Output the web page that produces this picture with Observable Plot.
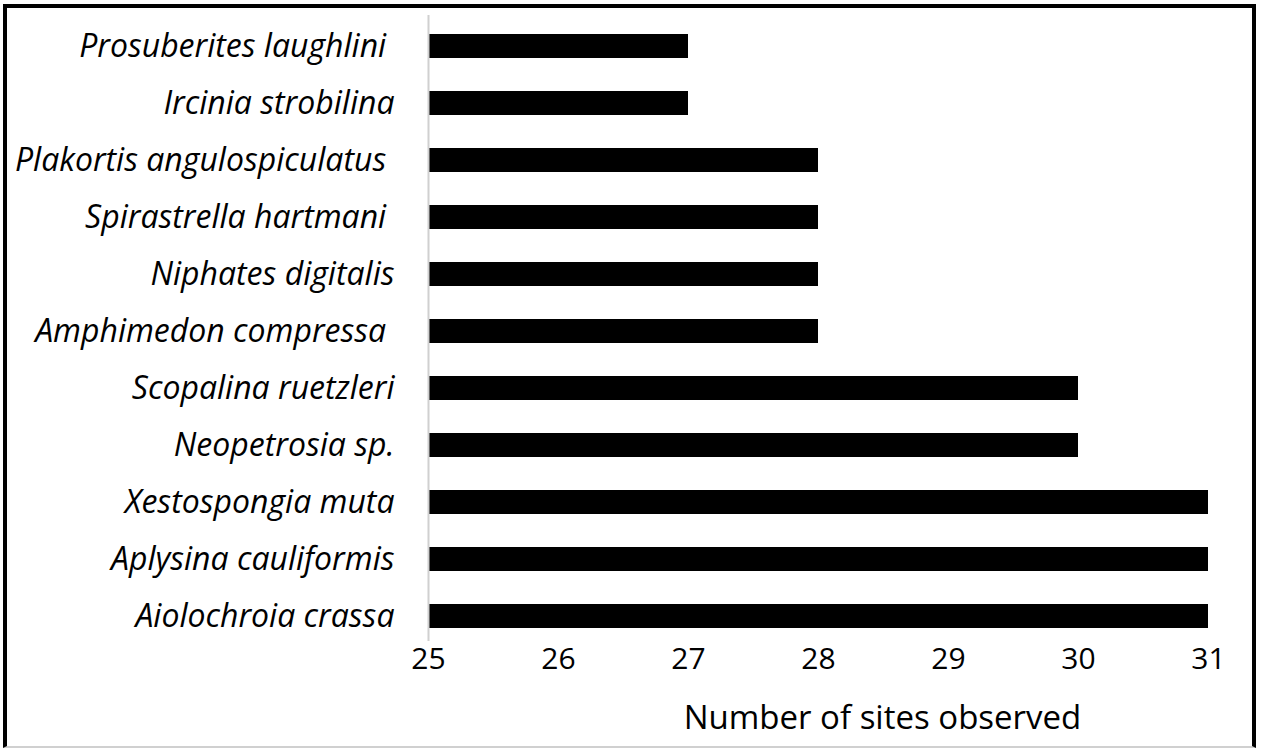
<!DOCTYPE html>
<html>
<head>
<meta charset="utf-8">
<script src="https://cdn.jsdelivr.net/npm/d3@7"></script>
<script src="https://cdn.jsdelivr.net/npm/@observablehq/plot@0.6"></script>
<style>
  html, body { margin: 0; padding: 0; background: #fff; }
  #wrap { position: relative; width: 1262px; height: 751px; overflow: hidden; }
  #frame { position: absolute; left: 3px; top: 4px; width: 1253px; height: 744px;
           border-left: 4px solid #000; border-top: 4px solid #000; border-right: 4px solid #000;
           border-bottom: 2px solid #d0d0d0; box-sizing: border-box; pointer-events: none; }
  svg text.sp, svg g.sp text { white-space: pre; }
</style>
</head>
<body>
<div id="wrap"><div id="frame"></div></div>
<script>
const species = [
  "Prosuberites laughlini ",
  "Ircinia strobilina",
  "Plakortis angulospiculatus ",
  "Spirastrella hartmani ",
  "Niphates digitalis",
  "Amphimedon compressa ",
  "Scopalina ruetzleri",
  "Neopetrosia sp.",
  "Xestospongia muta",
  "Aplysina cauliformis",
  "Aiolochroia crassa"
];
const sites = [27, 27, 28, 28, 28, 28, 30, 30, 31, 31, 31];
const xTicks = [25, 26, 27, 28, 29, 30, 31];
const xLabel = "Number of sites observed";

const data = species.map((s, i) => ({species: s, sites: sites[i]}));

const chart = Plot.plot({
  width: 1262,
  height: 751,
  marginLeft: 428,
  marginRight: 54,
  marginTop: 0,
  marginBottom: 90,
  style: {fontFamily: "'Open Sans', sans-serif", fontSize: "30px", color: "#000", background: "transparent"},
  x: {domain: [xTicks[0], xTicks[xTicks.length - 1]], axis: null},
  y: {domain: species, padding: 0.58, axis: null},
  marks: [
    Plot.barX(data, {y: "species", x1: () => xTicks[0], x2: "sites", fill: "#000"}),
    Plot.ruleX([xTicks[0]], {stroke: "#d0d0d0", strokeWidth: 2, insetTop: 15, insetBottom: 20}),
    Plot.axisY({tickSize: 0, tickPadding: 34, label: null, fontStyle: "italic", fontSize: 32, className: "sp"}),
    Plot.text(xTicks, {x: d => d, frameAnchor: "bottom", lineAnchor: "middle", dy: -2, fontSize: 30, fill: "#000"}),
    Plot.text([xLabel], {frameAnchor: "bottom", lineAnchor: "middle", dx: 64, dy: 57, fontSize: 33, fill: "#000"})
  ]
});
document.getElementById("wrap").prepend(chart);
</script>
</body>
</html>
